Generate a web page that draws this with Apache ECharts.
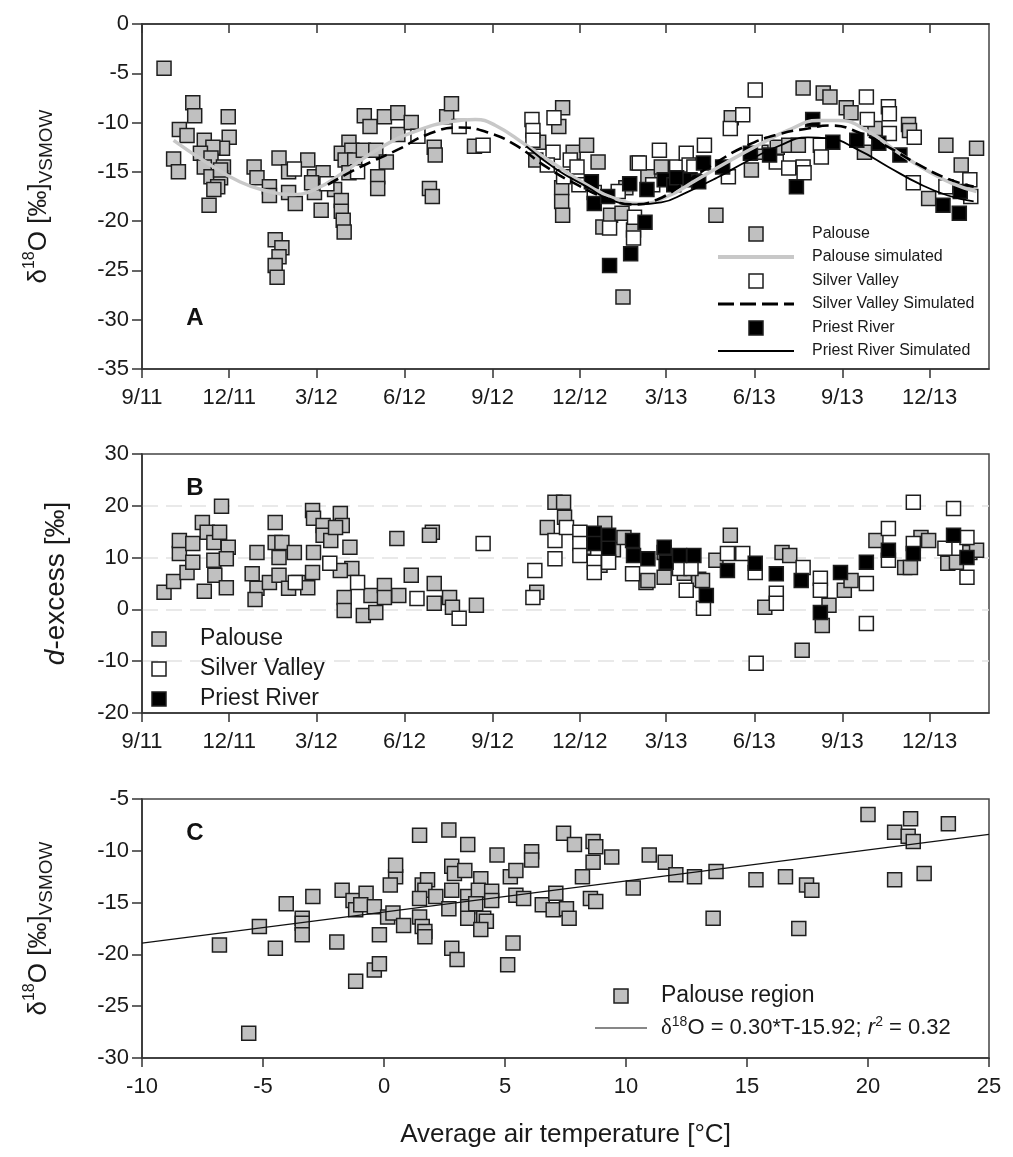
<!DOCTYPE html>
<html>
<head>
<meta charset="utf-8">
<script src="https://cdn.jsdelivr.net/npm/echarts@6/dist/echarts.min.js"></script>
<style>
  html, body { margin: 0; padding: 0; background: #fff; }
  #chart { width: 1013px; height: 1157px; }
</style>
</head>
<body>
<div id="chart"></div>
<script>
// ---------- data ----------
const dateMin = '2011-09-01';
const dateMax = '2014-02-01';
const tickDates = ['2011-09-01', '2011-12-01', '2012-03-01', '2012-06-01', '2012-09-01',
  '2012-12-01', '2013-03-01', '2013-06-01', '2013-09-01', '2013-12-01'];

// Panel A: δ18O of precipitation by collection date
const palouseA = [
  ['2011-09-24', -4.5], ['2011-10-24', -8.0], ['2011-10-26', -9.3], ['2011-10-10', -10.7],
  ['2011-10-18', -11.3], ['2011-10-04', -13.7], ['2011-10-09', -15.0], ['2011-11-30', -9.4],
  ['2011-12-01', -11.5], ['2011-11-05', -11.8], ['2011-11-24', -12.6], ['2011-11-14', -12.5],
  ['2011-11-01', -13.1], ['2011-11-12', -13.6], ['2011-11-25', -14.5], ['2011-11-05', -14.5],
  ['2011-11-12', -15.5], ['2011-11-22', -15.6], ['2011-11-19', -16.5], ['2011-11-15', -16.8],
  ['2011-11-10', -18.4], ['2011-11-22', -14.8], ['2011-12-27', -14.5], ['2011-12-30', -15.6],
  ['2012-01-12', -16.5], ['2012-01-12', -17.4], ['2012-01-22', -13.6], ['2012-02-01', -15.0],
  ['2012-02-21', -13.8], ['2012-02-01', -17.1], ['2012-02-08', -18.2], ['2012-01-18', -21.9],
  ['2012-01-25', -22.7], ['2012-01-22', -23.6], ['2012-01-18', -24.5], ['2012-01-20', -25.7],
  ['2012-02-28', -15.5], ['2012-02-28', -17.1], ['2012-03-06', -18.9], ['2012-03-08', -15.1],
  ['2012-02-25', -16.1], ['2012-03-20', -16.8], ['2012-03-27', -17.9], ['2012-03-27', -19.0],
  ['2012-03-29', -19.9], ['2012-03-30', -21.1], ['2012-04-04', -12.0], ['2012-03-27', -13.1],
  ['2012-04-07', -12.8], ['2012-03-31', -13.8], ['2012-04-10', -13.8], ['2012-04-04', -15.1],
  ['2012-04-19', -12.8], ['2012-05-02', -12.8], ['2012-05-04', -15.5], ['2012-05-04', -16.7],
  ['2012-05-13', -14.0], ['2012-04-20', -9.3], ['2012-04-26', -10.4], ['2012-05-11', -9.4],
  ['2012-05-25', -9.0], ['2012-05-25', -11.2], ['2012-06-08', -10.0], ['2012-07-02', -12.5],
  ['2012-07-03', -13.3], ['2012-06-27', -16.7], ['2012-06-30', -17.5], ['2012-07-15', -9.4],
  ['2012-07-20', -8.1], ['2012-08-13', -12.4],
  ['2012-10-19', -12.0], ['2012-10-16', -13.8], ['2012-11-09', -10.4], ['2012-11-13', -8.5],
  ['2012-11-12', -16.6], ['2012-11-12', -18.0], ['2012-11-13', -19.4], ['2012-11-24', -13.0],
  ['2012-12-08', -12.3], ['2012-12-20', -14.0], ['2012-12-25', -20.6], ['2013-01-02', -19.4],
  ['2013-01-14', -19.2], ['2013-01-15', -27.7], ['2013-01-26', -20.9], ['2013-01-30', -14.1],
  ['2013-02-10', -15.5], ['2013-02-24', -14.5], ['2013-01-18', -16.6],
  ['2013-04-22', -19.4], ['2013-05-08', -9.5], ['2013-05-29', -14.8], ['2013-06-08', -13.0],
  ['2013-06-25', -12.5], ['2013-07-07', -12.3], ['2013-07-17', -12.3], ['2013-07-22', -6.5],
  ['2013-08-12', -7.0], ['2013-08-19', -7.4], ['2013-09-05', -8.5], ['2013-09-10', -9.0],
  ['2013-09-24', -13.0], ['2013-10-05', -10.6], ['2013-11-09', -10.2], ['2013-11-10', -10.8],
  ['2013-11-30', -17.7], ['2013-12-18', -12.3], ['2014-01-03', -14.3], ['2014-01-19', -12.6]
];
const silverA = [
  ['2012-02-07', -14.7], ['2012-03-12', -16.2], ['2012-04-13', -15.0], ['2012-06-15', -11.4],
  ['2012-07-28', -10.4], ['2012-08-22', -12.3], ['2012-10-12', -9.7], ['2012-10-13', -10.8],
  ['2012-10-13', -11.8], ['2012-11-04', -9.5], ['2012-11-03', -13.0], ['2012-10-28', -14.3],
  ['2012-11-14', -15.5], ['2012-11-21', -13.8], ['2012-11-28', -14.5], ['2012-11-30', -16.3],
  ['2012-12-16', -17.1], ['2013-01-01', -20.7], ['2013-01-26', -21.7], ['2013-01-27', -19.6],
  ['2013-01-10', -17.0], ['2013-02-15', -16.3],
  ['2013-02-01', -14.1], ['2013-02-22', -12.8], ['2013-03-12', -14.5], ['2013-03-22', -13.1],
  ['2013-03-25', -14.3], ['2013-03-30', -14.5], ['2013-04-10', -12.3], ['2013-05-05', -15.5],
  ['2013-05-07', -10.6], ['2013-05-20', -9.2], ['2013-06-02', -6.7], ['2013-06-02', -12.0],
  ['2013-06-24', -14.0], ['2013-07-07', -14.6], ['2013-07-22', -14.5], ['2013-07-23', -15.1],
  ['2013-08-09', -12.3], ['2013-08-10', -13.5], ['2013-09-26', -7.4], ['2013-09-27', -9.7],
  ['2013-10-19', -8.4], ['2013-10-20', -9.1], ['2013-10-20', -11.1], ['2013-11-15', -11.5],
  ['2013-11-14', -16.1], ['2013-12-18', -16.5], ['2014-01-12', -15.8], ['2014-01-13', -17.5]
];
const priestA = [
  ['2012-12-13', -16.0], ['2012-12-16', -18.2], ['2012-12-30', -17.5], ['2013-01-01', -24.5],
  ['2013-01-23', -23.3], ['2013-02-07', -20.1], ['2013-01-22', -16.2], ['2013-02-09', -16.8],
  ['2013-02-27', -15.8], ['2013-03-09', -16.3], ['2013-03-12', -15.6], ['2013-03-26', -15.8],
  ['2013-04-04', -16.0], ['2013-04-09', -14.1], ['2013-04-29', -14.5], ['2013-05-28', -13.1],
  ['2013-06-17', -13.3], ['2013-07-15', -16.5], ['2013-08-01', -9.7], ['2013-08-22', -12.0],
  ['2013-09-16', -11.8], ['2013-10-09', -12.1], ['2013-10-31', -13.3], ['2013-12-15', -18.4],
  ['2014-01-01', -19.2], ['2014-01-02', -17.0]
];

// Panel A: simulated δ18O
const palouseSimA = [
  ['2011-10-04', -11.8], ['2011-11-05', -13.9], ['2011-12-12', -16.0], ['2012-01-12', -17.0],
  ['2012-02-02', -17.3], ['2012-02-28', -16.8], ['2012-03-30', -15.0], ['2012-05-06', -12.6],
  ['2012-06-15', -10.8], ['2012-07-20', -9.9], ['2012-08-14', -9.7], ['2012-09-04', -10.3],
  ['2012-10-06', -12.3], ['2012-11-06', -14.3], ['2012-12-08', -16.3], ['2013-01-09', -17.8],
  ['2013-02-04', -18.2], ['2013-03-02', -17.5], ['2013-04-02', -15.8], ['2013-05-04', -14.0],
  ['2013-06-05', -12.3], ['2013-07-06', -10.8], ['2013-08-07', -9.8], ['2013-08-28', -9.8],
  ['2013-09-28', -10.9], ['2013-10-30', -13.1], ['2013-11-29', -14.9], ['2013-12-25', -16.2],
  ['2014-01-19', -17.0]
];
const silverSimA = [
  ['2012-03-13', -16.3], ['2012-04-14', -14.6], ['2012-05-26', -12.7], ['2012-06-25', -11.2],
  ['2012-07-29', -10.5], ['2012-08-27', -11.0], ['2012-09-25', -12.3], ['2012-10-27', -14.5],
  ['2012-11-28', -16.3], ['2012-12-30', -17.7], ['2013-01-25', -18.3], ['2013-02-20', -17.8],
  ['2013-03-22', -16.0], ['2013-04-23', -14.0], ['2013-05-25', -12.3], ['2013-06-26', -11.2],
  ['2013-07-27', -10.6], ['2013-08-20', -10.3], ['2013-09-18', -11.0], ['2013-10-19', -12.5],
  ['2013-11-20', -14.3], ['2013-12-20', -15.7], ['2014-01-16', -16.5]
];
const priestSimA = [
  ['2012-10-06', -12.4], ['2012-11-06', -14.7], ['2012-12-08', -16.5], ['2013-01-03', -17.9],
  ['2013-01-29', -18.3], ['2013-02-24', -18.1], ['2013-03-22', -17.1], ['2013-04-23', -15.6],
  ['2013-05-25', -13.9], ['2013-06-26', -12.4], ['2013-07-27', -11.5], ['2013-08-17', -11.6],
  ['2013-09-18', -12.8], ['2013-10-19', -14.5], ['2013-11-20', -16.2], ['2013-12-20', -17.4],
  ['2014-01-16', -18.0]
];

// Panel B: d-excess by collection date
const palouseB = [
  ['2011-09-24', 3.3], ['2011-10-04', 5.4], ['2011-10-18', 7.1], ['2011-10-10', 10.8],
  ['2011-10-10', 13.3], ['2011-10-24', 9.1], ['2011-10-24', 12.7], ['2011-11-03', 16.8],
  ['2011-11-08', 14.9], ['2011-11-15', 12.9], ['2011-11-21', 14.9], ['2011-11-16', 6.6],
  ['2011-11-15', 9.5], ['2011-11-05', 3.5], ['2011-11-23', 19.9], ['2011-11-28', 4.2],
  ['2011-11-30', 12.0], ['2011-11-28', 9.8], ['2011-12-30', 11.0], ['2011-12-25', 6.9],
  ['2011-12-30', 4.1], ['2011-12-28', 1.9], ['2012-01-18', 16.8], ['2012-01-18', 12.9],
  ['2012-01-25', 12.9], ['2012-01-22', 10.0], ['2012-01-12', 5.2], ['2012-01-22', 6.6],
  ['2012-02-01', 4.1], ['2012-02-07', 11.0], ['2012-02-11', 5.2], ['2012-02-21', 4.2],
  ['2012-02-26', 7.1], ['2012-02-27', 11.0], ['2012-02-26', 19.1], ['2012-02-27', 17.6],
  ['2012-03-08', 16.2], ['2012-03-08', 14.3], ['2012-03-16', 13.3], ['2012-03-26', 18.5],
  ['2012-03-28', 16.2], ['2012-03-21', 15.8], ['2012-04-05', 12.0], ['2012-04-07', 7.9],
  ['2012-03-26', 7.5], ['2012-03-30', 2.3], ['2012-03-30', -0.2], ['2012-04-19', -1.2],
  ['2012-04-27', 2.7], ['2012-05-02', -0.6], ['2012-05-11', 4.6], ['2012-05-11', 2.3],
  ['2012-05-26', 2.7], ['2012-06-08', 6.6], ['2012-05-24', 13.7], ['2012-06-30', 14.9],
  ['2012-06-27', 14.3], ['2012-07-02', 5.0], ['2012-07-02', 1.2], ['2012-07-18', 2.3],
  ['2012-07-21', 0.4], ['2012-08-15', 0.8],
  ['2012-10-17', 3.3], ['2012-10-28', 15.8], ['2012-11-05', 20.7], ['2012-11-14', 20.7],
  ['2012-11-15', 17.8], ['2012-12-05', 12.0], ['2012-12-22', 8.5], ['2012-12-27', 16.6],
  ['2013-01-05', 11.5], ['2013-01-16', 13.9], ['2013-02-08', 5.2], ['2013-02-10', 5.6],
  ['2013-02-27', 6.2], ['2013-03-20', 7.0], ['2013-04-04', 5.8], ['2013-04-08', 5.6],
  ['2013-04-22', 9.5], ['2013-05-07', 14.3], ['2013-06-12', 0.4], ['2013-06-30', 11.0],
  ['2013-07-08', 10.4], ['2013-07-21', -7.9], ['2013-08-11', -3.1], ['2013-08-18', 0.8],
  ['2013-09-03', 3.7], ['2013-09-10', 5.6], ['2013-10-06', 13.3], ['2013-11-05', 8.1],
  ['2013-11-11', 8.1], ['2013-11-22', 13.9], ['2013-11-30', 13.3], ['2013-12-20', 8.9],
  ['2013-12-29', 9.1], ['2014-01-12', 11.0], ['2014-01-19', 11.4]
];
const silverB = [
  ['2012-02-08', 5.2], ['2012-03-15', 8.9], ['2012-04-13', 5.2], ['2012-06-14', 2.1],
  ['2012-07-28', -1.7], ['2012-08-22', 12.7],
  ['2012-10-13', 2.3], ['2012-10-15', 7.5], ['2012-11-05', 13.3], ['2012-11-05', 9.8],
  ['2012-11-17', 15.8], ['2012-12-01', 14.9], ['2012-12-01', 12.7], ['2012-12-01', 10.4],
  ['2012-12-16', 9.1], ['2012-12-16', 7.1], ['2012-12-31', 9.1], ['2013-01-25', 6.9],
  ['2013-02-27', 11.0], ['2013-03-15', 7.9], ['2013-03-27', 7.9], ['2013-03-22', 3.7],
  ['2013-04-09', 0.2], ['2013-05-04', 10.8], ['2013-05-20', 10.8], ['2013-06-02', 7.1],
  ['2013-06-24', 3.1], ['2013-06-24', 1.2], ['2013-06-03', -10.4], ['2013-07-22', 8.1],
  ['2013-08-09', 6.0], ['2013-08-09', 3.7], ['2013-09-26', 5.0], ['2013-09-26', -2.7],
  ['2013-10-19', 15.6], ['2013-10-19', 9.5], ['2013-11-14', 12.7], ['2013-11-14', 20.7],
  ['2013-12-26', 19.5], ['2013-12-17', 11.8], ['2014-01-09', 13.9], ['2014-01-09', 6.2]
];
const priestB = [
  ['2012-12-16', 14.7], ['2012-12-16', 12.7], ['2012-12-31', 14.3], ['2012-12-31', 11.8],
  ['2013-01-25', 13.3], ['2013-01-26', 10.4], ['2013-02-10', 9.8], ['2013-02-27', 12.0],
  ['2013-03-01', 9.1], ['2013-03-15', 10.4], ['2013-03-30', 10.4], ['2013-04-12', 2.7],
  ['2013-05-04', 7.5], ['2013-06-02', 8.9], ['2013-06-24', 6.9], ['2013-07-20', 5.6],
  ['2013-08-09', -0.6], ['2013-08-30', 7.1], ['2013-09-26', 9.1], ['2013-10-19', 11.4],
  ['2013-11-14', 10.8], ['2013-12-26', 14.3], ['2014-01-09', 10.0]
];

// Panel C: δ18O vs average air temperature (°C), Palouse region
const palouseC = [
  [-6.80, -19.1], [-5.59, -27.6], [-5.15, -17.3], [-4.49, -19.4], [-4.04, -15.1], [-2.94, -14.4],
  [-3.38, -16.5], [-3.38, -17.0], [-3.38, -18.1], [-1.95, -18.8], [-1.73, -13.8], [-1.28, -14.8],
  [-1.17, -15.7], [-0.74, -14.1], [-0.96, -15.2], [-0.40, -15.4], [-1.17, -22.6], [-0.40, -21.5],
  [-0.19, -20.9], [-0.19, -18.1], [0.15, -16.4], [0.37, -16.0], [0.48, -12.5], [0.48, -11.4],
  [0.26, -13.3], [0.81, -17.2], [1.47, -8.5], [1.58, -13.3], [1.80, -12.8], [1.69, -13.8],
  [1.47, -14.6], [1.47, -16.4], [1.58, -17.3], [1.69, -17.8], [1.69, -18.3], [2.14, -14.4],
  [2.68, -8.0], [2.80, -11.5], [2.91, -12.2], [2.80, -13.8], [2.68, -15.6], [2.80, -19.4],
  [3.02, -20.5], [3.46, -9.4], [3.34, -11.9], [3.46, -14.4], [3.46, -15.4], [3.46, -16.5],
  [4.00, -12.7], [3.90, -13.8], [3.79, -15.1], [4.12, -16.5], [4.23, -16.8], [4.00, -17.6],
  [4.45, -13.9], [4.45, -14.8], [4.67, -10.4], [5.22, -12.5], [5.45, -11.9], [5.33, -18.9],
  [5.11, -21.0], [5.45, -14.3], [5.77, -14.6], [6.10, -10.1], [6.10, -10.9], [6.54, -15.2],
  [6.99, -15.7], [7.10, -14.1], [7.42, -8.3], [7.54, -15.6], [7.65, -16.5], [7.87, -9.4],
  [8.20, -12.5], [8.64, -9.1], [8.75, -9.6], [8.64, -11.1], [8.53, -14.6], [8.75, -14.9],
  [9.41, -10.6], [10.30, -13.6], [10.96, -10.4], [11.62, -11.1], [12.06, -12.3], [12.83, -12.5],
  [13.60, -16.5], [13.72, -12.0], [15.37, -12.8], [16.59, -12.5], [17.14, -17.5], [17.46, -13.3],
  [17.68, -13.8], [20.00, -6.5], [21.10, -8.2], [21.76, -6.9], [21.66, -8.6], [21.87, -9.1],
  [21.10, -12.8], [22.32, -12.2], [23.32, -7.4]
];
// linear fit for panel C: δ18O = slope*T + intercept
const fitSlope = 0.30;
const fitIntercept = -15.92;
const fitR2 = 0.32;
const tempRange = [-10, 25];

// ---------- helpers ----------
const FONT = '"Liberation Sans", Arial, Helvetica, sans-serif';
function parseDay(s) {
  const p = s.split('-').map(Number);
  return new Date(p[0], p[1] - 1, p[2]).getTime();
}
const asTime = arr => arr.map(r => [parseDay(r[0]), r[1]]);
const tickTimes = tickDates.map(parseDay);
function fmtMonth(v) {
  const d = new Date(v);
  return (d.getMonth() + 1) + '/' + String(d.getFullYear()).slice(2);
}

const GRAY = '#c0c0c0';
const EDGE = '#1e1e1e';
const SYM = 14;

const G = {
  A: { left: 142, right: 24, top: 24, height: 345 },
  B: { left: 142, right: 24, top: 454, height: 259 },
  C: { left: 142, right: 24, top: 799, height: 259 }
};

const axisLineStyle = { show: true, onZero: false, lineStyle: { color: '#333', width: 1.6 } };
const tickLabel = { color: '#1a1a1a', fontSize: 22, fontFamily: FONT };

// date axes are value axes over millisecond timestamps, ticked quarterly
function dateAxis(gridIndex, opts) {
  return Object.assign({
    type: 'value', gridIndex: gridIndex,
    min: parseDay(dateMin), max: parseDay(dateMax),
    axisLine: axisLineStyle,
    axisTick: { show: true, inside: false, length: 9, customValues: tickTimes, lineStyle: { color: '#333', width: 1.5 } },
    axisLabel: Object.assign({}, tickLabel, { margin: 18, customValues: tickTimes, formatter: fmtMonth }),
    splitLine: { show: false }, minorTick: { show: false }
  }, opts || {});
}

const deltaName = '{m|δ}{sup|18}{m|O [‰]}{sub|VSMOW}';
const deltaRich = {
  m: { fontSize: 26, fontFamily: FONT, color: '#1a1a1a', lineHeight: 34 },
  sup: { fontSize: 16, fontFamily: FONT, color: '#1a1a1a', lineHeight: 16, verticalAlign: 'top' },
  sub: { fontSize: 19, fontFamily: FONT, color: '#1a1a1a', lineHeight: 19, verticalAlign: 'bottom' }
};

function valueYAxis(gridIndex, min, max, interval, name, rich, gap, split) {
  return {
    type: 'value', gridIndex: gridIndex, min: min, max: max, interval: interval,
    name: name, nameLocation: 'middle', nameRotate: 90, nameGap: gap,
    nameTextStyle: { rich: rich, fontFamily: FONT, color: '#1a1a1a' },
    axisLine: axisLineStyle,
    axisTick: { show: true, inside: false, length: 10, lineStyle: { color: '#333', width: 1.5 } },
    axisLabel: Object.assign({}, tickLabel, { margin: 13 }),
    splitLine: split || { show: false }
  };
}

function scatter(name, data, fill, xi, yi) {
  return {
    type: 'scatter', name: name, xAxisIndex: xi, yAxisIndex: yi,
    symbol: 'rect', symbolSize: SYM, data: data,
    itemStyle: { color: fill, borderColor: EDGE, borderWidth: 1.5, opacity: 1 },
    emphasis: { disabled: true }, z: 2, silent: true
  };
}
function simLine(name, data, style, z) {
  return {
    type: 'line', name: name, xAxisIndex: 0, yAxisIndex: 0, data: data,
    smooth: 0.5, showSymbol: false, symbol: 'none', lineStyle: style, z: z, silent: true
  };
}

const fitLine = tempRange.map(t => [t, fitSlope * t + fitIntercept]);

// ---------- legends drawn as graphic elements ----------
function legendRect(cx, cy, fill) {
  return { type: 'rect', shape: { x: cx - 7, y: cy - 7, width: 14, height: 14 },
    style: { fill: fill, stroke: EDGE, lineWidth: 1.5 }, z: 10, silent: true };
}
function legendLine(x1, x2, y, style) {
  return { type: 'line', shape: { x1: x1, y1: y, x2: x2, y2: y }, style: style, z: 10, silent: true };
}
function legendText(x, y, text, size, rich) {
  return { type: 'text', x: x, y: y, z: 10, silent: true,
    style: { text: text, fontSize: size, fontFamily: FONT, fill: '#1a1a1a', verticalAlign: 'middle', align: 'left', rich: rich } };
}
function panelLetter(x, y, t) {
  return { type: 'text', x: x, y: y, z: 10, silent: true,
    style: { text: t, fontSize: 24, fontWeight: 'bold', fontFamily: FONT, fill: '#111', align: 'center', verticalAlign: 'middle' } };
}

const lgA = [234, 257, 281, 304, 328, 351];
const eqRich = {
  d: { fontFamily: '"Liberation Serif", "Times New Roman", serif', fontSize: 23, fill: '#1a1a1a' },
  sup: { fontSize: 14, fontFamily: FONT, verticalAlign: 'top', lineHeight: 14, fill: '#1a1a1a' },
  it: { fontStyle: 'italic', fontSize: 22, fontFamily: FONT, fill: '#1a1a1a' },
  n: { fontSize: 22, fontFamily: FONT, fill: '#1a1a1a', lineHeight: 26 }
};

const graphic = [
  panelLetter(195, 318, 'A'), panelLetter(195, 488, 'B'), panelLetter(195, 833, 'C'),
  // panel A legend
  legendRect(756, lgA[0], GRAY), legendText(812, lgA[0], 'Palouse', 16),
  legendLine(718, 794, lgA[1], { stroke: '#c8c8c8', lineWidth: 4 }), legendText(812, lgA[1], 'Palouse simulated', 16),
  legendRect(756, lgA[2], '#fff'), legendText(812, lgA[2], 'Silver Valley', 16),
  legendLine(718, 794, lgA[3], { stroke: '#000', lineWidth: 3, lineDash: [16, 6] }), legendText(812, lgA[3], 'Silver Valley Simulated', 16),
  legendRect(756, lgA[4], '#000'), legendText(812, lgA[4], 'Priest River', 16),
  legendLine(718, 794, lgA[5], { stroke: '#000', lineWidth: 2 }), legendText(812, lgA[5], 'Priest River Simulated', 16),
  // panel B legend
  legendRect(159, 639, GRAY), legendText(200, 639, 'Palouse', 23),
  legendRect(159, 669, '#fff'), legendText(200, 669, 'Silver Valley', 23),
  legendRect(159, 699, '#000'), legendText(200, 699, 'Priest River', 23),
  // panel C legend
  legendRect(621, 996, GRAY), legendText(661, 996, 'Palouse region', 23),
  legendLine(595, 647, 1028, { stroke: '#111', lineWidth: 1.2 }),
  legendText(661, 1028,
    '{d|δ}{sup|18}{n|O = ' + fitSlope.toFixed(2) + '*T' + fitIntercept.toFixed(2) + '; }{it|r}{sup|2}{n| = ' + fitR2.toFixed(2) + '}',
    22, eqRich)
];

// ---------- chart ----------
const chart = echarts.init(document.getElementById('chart'), null, { renderer: 'canvas' });
chart.setOption({
  animation: false,
  backgroundColor: '#fff',
  textStyle: { fontFamily: FONT },
  grid: [
    Object.assign({ show: true, borderColor: '#444', borderWidth: 1.5, backgroundColor: 'transparent' }, G.A),
    Object.assign({ show: true, borderColor: '#444', borderWidth: 1.5, backgroundColor: 'transparent' }, G.B),
    Object.assign({ show: true, borderColor: '#444', borderWidth: 1.5, backgroundColor: 'transparent' }, G.C)
  ],
  xAxis: [
    dateAxis(0),
    dateAxis(0, { position: 'top',
      axisTick: { show: true, inside: true, length: 9, customValues: tickTimes, lineStyle: { color: '#333', width: 1.5 } },
      axisLabel: { show: false } }),
    dateAxis(1),
    {
      type: 'value', gridIndex: 2, min: tempRange[0], max: tempRange[1], interval: 5,
      name: 'Average air temperature [°C]', nameLocation: 'middle', nameGap: 64,
      nameTextStyle: { fontSize: 26, fontFamily: FONT, color: '#1a1a1a' },
      axisLine: axisLineStyle,
      axisTick: { show: true, inside: false, length: 9, lineStyle: { color: '#333', width: 1.5 } },
      axisLabel: Object.assign({}, tickLabel, { margin: 18 }),
      splitLine: { show: false }
    }
  ],
  yAxis: [
    valueYAxis(0, -35, 0, 5, deltaName, deltaRich, 86),
    valueYAxis(1, -20, 30, 10, '{i|d}{m|-excess [‰]}', {
      i: { fontSize: 28, fontStyle: 'italic', fontFamily: FONT, color: '#1a1a1a' },
      m: { fontSize: 28, fontFamily: FONT, color: '#1a1a1a' }
    }, 72, { show: true, showMinLine: false, showMaxLine: false,
             lineStyle: { color: '#e2e2e2', width: 1.5, type: [16, 8] } }),
    valueYAxis(2, -30, -5, 5, deltaName, deltaRich, 86)
  ],
  series: [
    scatter('Palouse', asTime(palouseA), GRAY, 0, 0),
    scatter('Silver Valley', asTime(silverA), '#fff', 0, 0),
    scatter('Priest River', asTime(priestA), '#000', 0, 0),
    simLine('Palouse simulated', asTime(palouseSimA), { color: '#c8c8c8', width: 3.5 }, 3),
    simLine('Silver Valley Simulated', asTime(silverSimA), { color: '#000', width: 2.6, type: [12, 6] }, 4),
    simLine('Priest River Simulated', asTime(priestSimA), { color: '#000', width: 1.8 }, 5),
    scatter('Palouse', asTime(palouseB), GRAY, 2, 1),
    scatter('Silver Valley', asTime(silverB), '#fff', 2, 1),
    scatter('Priest River', asTime(priestB), '#000', 2, 1),
    scatter('Palouse region', palouseC, GRAY, 3, 2),
    {
      type: 'line', name: 'fit', xAxisIndex: 3, yAxisIndex: 2, data: fitLine,
      showSymbol: false, symbol: 'none', lineStyle: { color: '#111', width: 1.2 }, z: 3, silent: true
    }
  ],
  graphic: graphic
});
</script>
</body>
</html>
